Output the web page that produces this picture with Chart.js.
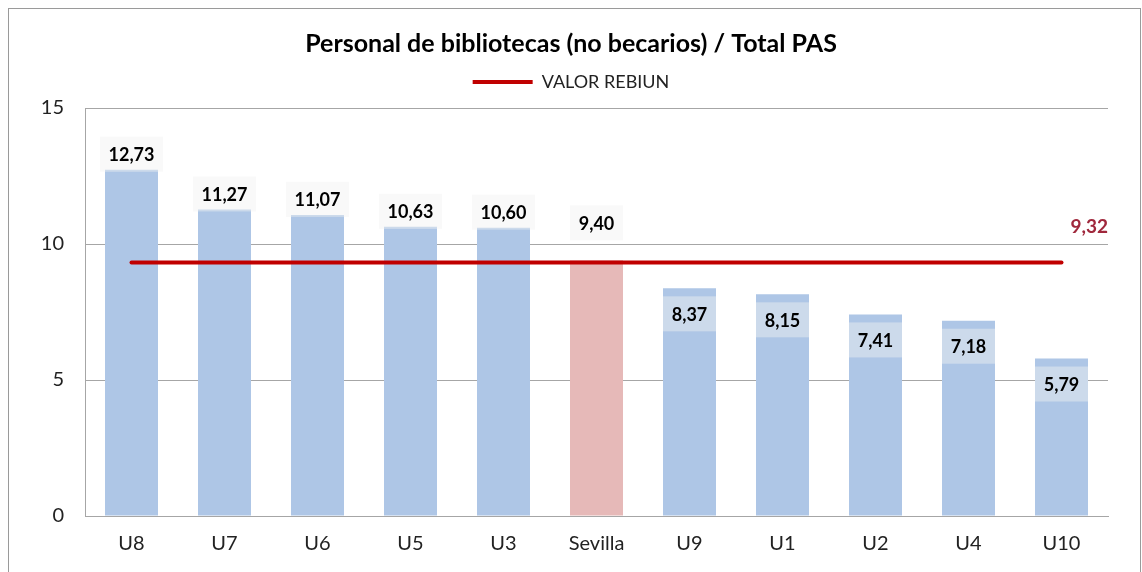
<!DOCTYPE html>
<html>
<head>
<meta charset="utf-8">
<script src="https://cdn.jsdelivr.net/npm/chart.js@4/dist/chart.umd.min.js"></script>
<style>
  html, body { margin:0; padding:0; background:#fff; }
  #wrap { width:1142px; height:572px; position:relative; }
</style>
</head>
<body>
<div id="wrap"><canvas id="chart" width="1142" height="572"></canvas></div>
<script>
const FONT = "Lato, 'Open Sans', sans-serif";

const categories = ["U8","U7","U6","U5","U3","Sevilla","U9","U1","U2","U4","U10"];
const ratios = [12.73, 11.27, 11.07, 10.63, 10.60, 9.40, 8.37, 8.15, 7.41, 7.18, 5.79];
const rebiun = 9.32;
const rebiunLine = [9.32, 9.32, 9.32, 9.32, 9.32, 9.32, 9.32, 9.32, 9.32, 9.32, 9.32];
const yTicks = [0, 5, 10, 15];
const highlight = "Sevilla";

const COLORS = {
  bar: "#AEC6E6",
  barHi: "#E6B9B8",
  line: "#C00000",
  lineLabel: "#A0283C",
  grid: "#A6A6A6",
  text: "#222222",
  frame: "#9a9a9a"
};

const fmt = (v) => v.toFixed(2).replace(".", ",");

// outer frame like the spreadsheet chart area
const framePlugin = {
  id: "frame",
  beforeInit(chart){
    // extra room under the legend
    const fit = chart.legend.fit;
    chart.legend.fit = function(){
      fit.bind(chart.legend)();
      this.height += 7;
    };
  },
  beforeDraw(chart){
    const c = chart.ctx;
    c.save();
    c.strokeStyle = COLORS.frame;
    c.lineWidth = 1;
    c.strokeRect(8.5, 8.5, 1132, 620);
    c.restore();
  }
};

// value labels with translucent boxes + REBIUN value at the right end
const labelPlugin = {
  id: "valueLabels",
  afterDatasetsDraw(chart){
    const c = chart.ctx;
    const meta = chart.getDatasetMeta(0);
    const yScale = chart.scales.y;
    const lineY = yScale.getPixelForValue(rebiun);
    const boxH = 35;
    c.save();
    c.font = `bold 18px ${FONT}`;
    c.textAlign = "center";
    c.textBaseline = "middle";
    meta.data.forEach((bar, i) => {
      const v = ratios[i];
      const txt = fmt(v);
      const boxW = Math.round(c.measureText(txt).width + 17);
      let top;
      if (v > rebiun) {
        top = bar.y - boxH + 2;
        if (v - rebiun < 0.5) top = bar.y - boxH - 20;
      } else {
        top = bar.y + 8;
      }
      c.fillStyle = "rgba(242,242,242,0.45)";
      c.fillRect(bar.x - boxW / 2, top, boxW, boxH);
      c.fillStyle = "#000";
      c.fillText(txt, bar.x, top + boxH / 2 + 1);
    });
    c.fillStyle = COLORS.lineLabel;
    c.font = `bold 19px ${FONT}`;
    c.textAlign = "right";
    c.fillText(fmt(rebiun), chart.chartArea.right, lineY - 36);
    c.restore();
  }
};

new Chart(document.getElementById("chart"), {
  data: {
    labels: categories,
    datasets: [
      {
        type: "bar",
        label: "Ratio",
        data: ratios,
        backgroundColor: categories.map(c => c === highlight ? COLORS.barHi : COLORS.bar),
        barPercentage: 0.57,
        categoryPercentage: 1,
        order: 2
      },
      {
        type: "line",
        label: "VALOR REBIUN",
        data: rebiunLine,
        borderColor: COLORS.line,
        backgroundColor: COLORS.line,
        borderWidth: 4,
        borderCapStyle: "round",
        pointRadius: 0,
        fill: false,
        order: 1
      }
    ]
  },
  options: {
    responsive: false,
    animation: false,
    layout: { padding: { top: 10, right: 0, left: 0, bottom: 0 } },
    plugins: {
      tooltip: { enabled: false },
      title: {
        display: true,
        text: "Personal de bibliotecas (no becarios) / Total PAS",
        color: "#000",
        font: { family: FONT, size: 25, weight: "bold" },
        padding: { top: 19, bottom: 8 }
      },
      legend: {
        position: "top",
        labels: {
          color: COLORS.text,
          font: { family: FONT, size: 18 },
          usePointStyle: true,
          pointStyle: "line",
          pointStyleWidth: 60,
          padding: 6,
          filter: (item) => item.datasetIndex === 1
        }
      }
    },
    scales: {
      x: {
        grid: { display: false, drawTicks: false },
        border: { color: COLORS.grid },
        ticks: { color: COLORS.text, font: { family: FONT, size: 20 }, padding: 16 },
        afterFit: (s) => { s.height = 56; }
      },
      y: {
        min: 0,
        max: 15,
        afterBuildTicks: (s) => { s.ticks = yTicks.map(v => ({ value: v })); },
        grid: { color: COLORS.grid, drawTicks: false },
        border: { color: COLORS.grid },
        ticks: { color: COLORS.text, font: { family: FONT, size: 20 }, padding: 21 },
        afterFit: (s) => { s.width = 85; }
      },
      // empty strip on the right so the title stays centred on the page
      yr: {
        position: "right",
        min: 0,
        max: 15,
        grid: { display: false, drawTicks: false },
        border: { display: false },
        ticks: { display: false },
        afterFit: (s) => { s.width = 34; }
      }
    }
  },
  plugins: [framePlugin, labelPlugin]
});
</script>
</body>
</html>
